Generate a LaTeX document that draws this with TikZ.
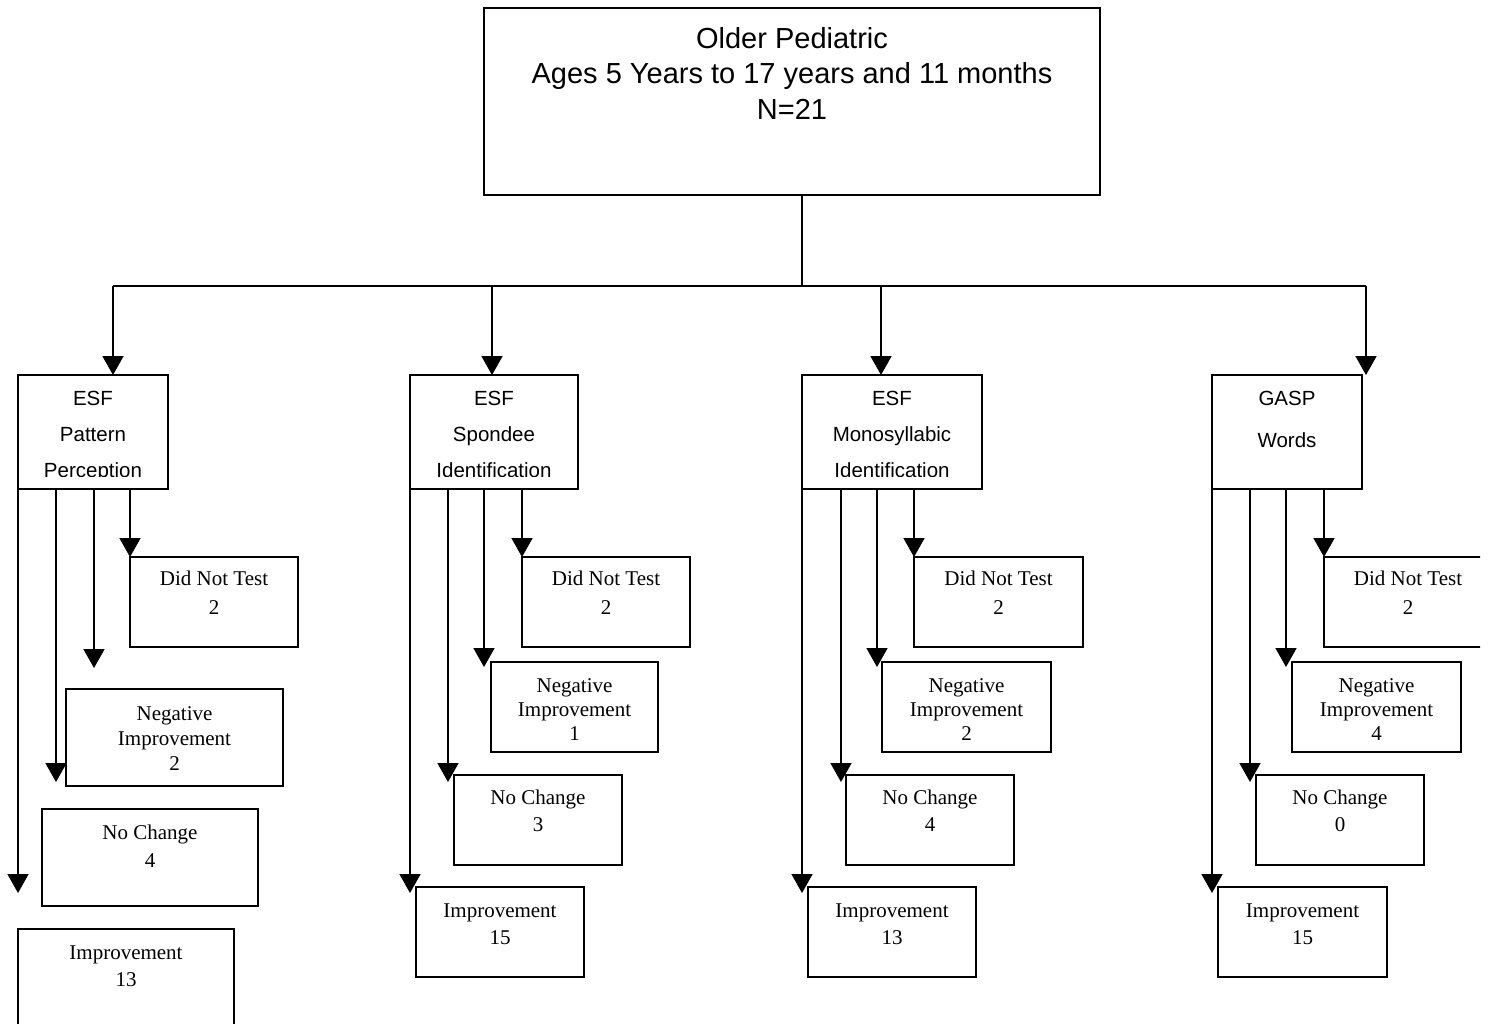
\documentclass[tikz,border=0pt]{standalone}
\usepackage{fontspec}
\setmainfont{Liberation Serif}
\setsansfont{Liberation Sans}
\usetikzlibrary{arrows.meta}
\begin{document}
\begin{tikzpicture}[x=1pt,y=-1pt,
  box/.style={draw, line width=1.8pt, anchor=north west, inner sep=0pt, outer sep=0pt},
  ln/.style={line width=1.8pt},
  thin/.style={line width=1.1pt},
  arr/.style={line width=1.8pt, -{Triangle[width=21pt,length=19pt]}},
  sf/.style={font={\sffamily\fontsize{20.5}{#1}\selectfont}, align=center, inner sep=0pt, anchor=north},
  sftop/.style={font={\sffamily\fontsize{29}{35.5}\selectfont}, align=center, inner sep=0pt, anchor=north},
  rm/.style={font={\rmfamily\fontsize{21}{#1}\selectfont}, align=center, inner sep=0pt, anchor=north}]
\path[use as bounding box] (0,0) rectangle (1491,1023);
\begin{scope}
\clip (-2,-2) rectangle (1480,1023);

% top box
\node[box, minimum width=616pt, minimum height=187pt] (T) at (484,8) {};
\node[sftop] (Tt) at ([yshift=-19pt]T.north) {Older Pediatric\\Ages 5 Years to 17 years and 11 months\\N=21};

% parent boxes
\node[box, minimum width=150pt, minimum height=114pt] (P1) at (18,375) {};
\node[box, minimum width=168pt, minimum height=114pt] (P2) at (410,375) {};
\node[box, minimum width=180pt, minimum height=114pt] (P3) at (802,375) {};
\node[box, minimum width=150pt, minimum height=114pt] (P4) at (1212,375) {};

\begin{scope}
\clip (P1.north west) rectangle ([yshift=13pt]P1.south east);
\node[sf=36] (P1t) at ([yshift=-16pt]P1.north) {ESF\\Pattern\\Perception};
\end{scope}
\begin{scope}
\clip (P2.north west) rectangle ([yshift=13pt]P2.south east);
\node[sf=36] (P2t) at ([yshift=-16pt]P2.north) {ESF\\Spondee\\Identification};
\end{scope}
\begin{scope}
\clip (P3.north west) rectangle ([yshift=13pt]P3.south east);
\node[sf=36] (P3t) at ([yshift=-16pt]P3.north) {ESF\\Monosyllabic\\Identification};
\end{scope}
\node[sf=42] (P4t) at ([yshift=-16pt]P4.north) {GASP\\Words};

% top connectors
\coordinate (J) at (802,286);
\coordinate (B1) at (113,286);
\coordinate (B2) at (492,286);
\coordinate (B3) at (881,286);
\coordinate (B4) at (1366,286);
\draw[thin] (T.south -| J) -- (J);
\draw[ln] (B1) -- (B4);
\draw[arr] (B1) -- (B1 |- P1.north);
\draw[arr] (B2) -- (B2 |- P2.north);
\draw[arr] (B3) -- (B3 |- P3.north);
\draw[arr] (B4) -- (B4 |- P4.north);

% ---------- column 1
\node[box, minimum width=168pt, minimum height=90pt] (D1) at (130,557) {};
\node[box, minimum width=217pt, minimum height=97pt] (N1) at (66,689) {};
\node[box, minimum width=216pt, minimum height=97pt] (C1) at (42,809) {};
\node[box, minimum width=216pt, minimum height=97pt] (I1) at (18,929) {};
\node[rm=29] (D1t) at ([yshift=-14pt]D1.north) {Did Not Test\\2};
\node[rm=25] (N1t) at ([yshift=-17pt]N1.north) {Negative\\Improvement\\2};
\node[rm=28] (C1t) at ([yshift=-16pt]C1.north) {No Change\\4};
\node[rm=27] (I1t) at ([yshift=-17pt]I1.north) {Improvement\\13};
\coordinate (n1) at (94,668);
\coordinate (c1) at (56,782);
\coordinate (i1) at (18,893);
\draw[arr] (P1.south -| D1.west) -- (D1.north west);
\draw[arr] (P1.south -| n1) -- (n1);
\draw[arr] (P1.south -| c1) -- (c1);
\draw[arr] (P1.south -| i1) -- (i1);

% ---------- column 2
\node[box, minimum width=168pt, minimum height=90pt] (D2) at (522,557) {};
\node[box, minimum width=167pt, minimum height=90pt] (N2) at (491,662) {};
\node[box, minimum width=168pt, minimum height=90pt] (C2) at (454,775) {};
\node[box, minimum width=168pt, minimum height=90pt] (I2) at (416,887) {};
\node[rm=29] (D2t) at ([yshift=-14pt]D2.north) {Did Not Test\\2};
\node[rm=24] (N2t) at ([yshift=-16pt]N2.north) {Negative\\Improvement\\1};
\node[rm=27] (C2t) at ([yshift=-15pt]C2.north) {No Change\\3};
\node[rm=27] (I2t) at ([yshift=-17pt]I2.north) {Improvement\\15};
\coordinate (n2) at (484,667);
\coordinate (c2) at (448,782);
\coordinate (i2) at (410,893);
\draw[arr] (P2.south -| D2.west) -- (D2.north west);
\draw[arr] (P2.south -| n2) -- (n2);
\draw[arr] (P2.south -| c2) -- (c2);
\draw[arr] (P2.south -| i2) -- (i2);

% ---------- column 3
\node[box, minimum width=169pt, minimum height=90pt] (D3) at (914,557) {};
\node[box, minimum width=169pt, minimum height=90pt] (N3) at (882,662) {};
\node[box, minimum width=168pt, minimum height=90pt] (C3) at (846,775) {};
\node[box, minimum width=168pt, minimum height=90pt] (I3) at (808,887) {};
\node[rm=29] (D3t) at ([yshift=-14pt]D3.north) {Did Not Test\\2};
\node[rm=24] (N3t) at ([yshift=-16pt]N3.north) {Negative\\Improvement\\2};
\node[rm=27] (C3t) at ([yshift=-15pt]C3.north) {No Change\\4};
\node[rm=27] (I3t) at ([yshift=-17pt]I3.north) {Improvement\\13};
\coordinate (n3) at (877,667);
\coordinate (c3) at (841,782);
\coordinate (i3) at (802,893);
\draw[arr] (P3.south -| D3.west) -- (D3.north west);
\draw[arr] (P3.south -| n3) -- (n3);
\draw[arr] (P3.south -| c3) -- (c3);
\draw[arr] (P3.south -| i3) -- (i3);

% ---------- column 4
\node[box, minimum width=168pt, minimum height=90pt] (D4) at (1324,557) {};
\node[box, minimum width=169pt, minimum height=90pt] (N4) at (1292,662) {};
\node[box, minimum width=168pt, minimum height=90pt] (C4) at (1256,775) {};
\node[box, minimum width=169pt, minimum height=90pt] (I4) at (1218,887) {};
\node[rm=29] (D4t) at ([yshift=-14pt]D4.north) {Did Not Test\\2};
\node[rm=24] (N4t) at ([yshift=-16pt]N4.north) {Negative\\Improvement\\4};
\node[rm=27] (C4t) at ([yshift=-15pt]C4.north) {No Change\\0};
\node[rm=27] (I4t) at ([yshift=-17pt]I4.north) {Improvement\\15};
\coordinate (n4) at (1286,667);
\coordinate (c4) at (1250,782);
\coordinate (i4) at (1212,893);
\draw[arr] (P4.south -| D4.west) -- (D4.north west);
\draw[arr] (P4.south -| n4) -- (n4);
\draw[arr] (P4.south -| c4) -- (c4);
\draw[arr] (P4.south -| i4) -- (i4);
\end{scope}
\end{tikzpicture}
\end{document}
